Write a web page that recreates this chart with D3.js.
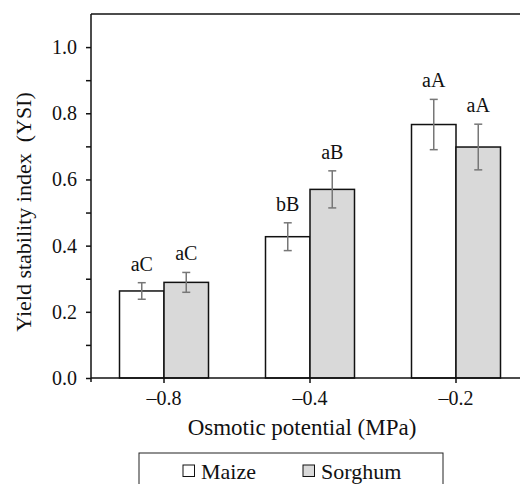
<!DOCTYPE html>
<html>
<head>
<meta charset="utf-8">
<script src="https://cdn.jsdelivr.net/npm/d3@7"></script>
<style>
  body { margin: 0; background: #fff; }
  svg text { font-family: "Liberation Serif", "Times New Roman", Tinos, "Nimbus Roman", FreeSerif, "DejaVu Serif", serif; fill: #111; }
</style>
</head>
<body>
<div id="chart"></div>
<script>
// values
let categories = ["\u20130.8", "\u20130.4", "\u20130.2"];
let series = ["Maize", "Sorghum"];
let maize = [0.263, 0.427, 0.766];
let maizeErr = [0.025, 0.042, 0.076];
let sorghum = [0.289, 0.570, 0.698];
let sorghumErr = [0.030, 0.056, 0.069];
let maizeLetters = ["aC", "bB", "aA"];
let sorghumLetters = ["aC", "aB", "aA"];
let yTicks = [0, 0.2, 0.4, 0.6, 0.8, 1.0];
let yMinor = [0.1, 0.3, 0.5, 0.7, 0.9];

let width = 520;
let height = 484;
let plotLeft = 91, plotRight = 529, plotTop = 14, plotBottom = 378;

let fills = { Maize: "#ffffff", Sorghum: "#d9d9d9" };

let rows = categories.map((c, i) => ({
    cat: c,
    bars: [
        { s: "Maize", v: maize[i], e: maizeErr[i], t: maizeLetters[i] },
        { s: "Sorghum", v: sorghum[i], e: sorghumErr[i], t: sorghumLetters[i] }
    ]
}));

let x0 = d3.scaleBand().domain(categories).range([plotLeft, plotRight]).padding(0);
let bw = x0.bandwidth();
let barW = 44.5;
let x1 = d3.scaleBand().domain(series).range([bw / 2 - barW, bw / 2 + barW]).padding(0);
let y = d3.scaleLinear().domain([0, 1.1]).range([plotBottom, plotTop]);

let svg = d3.select("#chart")
    .append("svg")
    .attr("width", width)
    .attr("height", height);

// bars
let groups = svg.append("g")
    .selectAll("g")
    .data(rows)
    .enter()
    .append("g")
    .attr("transform", d => `translate(${x0(d.cat)},0)`);

groups.selectAll("rect")
    .data(d => d.bars)
    .enter()
    .append("rect")
    .attr("x", d => x1(d.s))
    .attr("y", d => y(d.v))
    .attr("width", x1.bandwidth())
    .attr("height", d => y(0) - y(d.v))
    .attr("fill", d => fills[d.s])
    .attr("stroke", "#111")
    .attr("stroke-width", 1.5);

// error bars
let err = groups.selectAll("g.err")
    .data(d => d.bars)
    .enter()
    .append("g")
    .attr("class", "err")
    .attr("stroke", "#777")
    .attr("stroke-width", 1.5);

err.append("line")
    .attr("x1", d => x1(d.s) + x1.bandwidth() / 2)
    .attr("x2", d => x1(d.s) + x1.bandwidth() / 2)
    .attr("y1", d => y(d.v + d.e))
    .attr("y2", d => y(d.v - d.e));
err.append("line")
    .attr("x1", d => x1(d.s) + x1.bandwidth() / 2 - 4)
    .attr("x2", d => x1(d.s) + x1.bandwidth() / 2 + 4)
    .attr("y1", d => y(d.v + d.e))
    .attr("y2", d => y(d.v + d.e));
err.append("line")
    .attr("x1", d => x1(d.s) + x1.bandwidth() / 2 - 4)
    .attr("x2", d => x1(d.s) + x1.bandwidth() / 2 + 4)
    .attr("y1", d => y(d.v - d.e))
    .attr("y2", d => y(d.v - d.e));

// significance letters
groups.selectAll("text.sig")
    .data(d => d.bars)
    .enter()
    .append("text")
    .attr("class", "sig")
    .attr("x", d => x1(d.s) + x1.bandwidth() / 2)
    .attr("y", d => y(d.v + d.e) - 12)
    .attr("text-anchor", "middle")
    .attr("font-size", 20)
    .text(d => d.t);

// y axis
let yAxis = svg.append("g")
    .attr("transform", `translate(${plotLeft},0)`)
    .call(d3.axisLeft(y).tickValues(yTicks).tickFormat(d3.format(".1f")).tickSize(5).tickPadding(9))
    .call(g => g.select(".domain").remove());
yAxis.selectAll("line").attr("stroke", "#111").attr("stroke-width", 1.5);
yAxis.selectAll("text").attr("font-size", 20).attr("fill", "#111");

let yMinorAxis = svg.append("g")
    .attr("transform", `translate(${plotLeft},0)`)
    .call(d3.axisLeft(y).tickValues(yMinor).tickFormat("").tickSize(5))
    .call(g => g.select(".domain").remove());
yMinorAxis.selectAll("line").attr("stroke", "#111").attr("stroke-width", 1.5);

// x axis
let xAxis = svg.append("g")
    .attr("transform", `translate(0,${plotBottom})`)
    .call(d3.axisBottom(x0).tickSize(5).tickPadding(8))
    .call(g => g.select(".domain").remove());
xAxis.selectAll("line").attr("stroke", "#111").attr("stroke-width", 1.5);
xAxis.selectAll("text").attr("font-size", 20).attr("fill", "#111");

// frame lines
svg.append("line")
    .attr("x1", plotLeft).attr("x2", plotLeft)
    .attr("y1", plotTop).attr("y2", plotBottom + 4)
    .attr("stroke", "#111").attr("stroke-width", 1.5);
svg.append("line")
    .attr("x1", plotLeft).attr("x2", width)
    .attr("y1", plotBottom).attr("y2", plotBottom)
    .attr("stroke", "#111").attr("stroke-width", 1.5);
svg.append("line")
    .attr("x1", plotLeft).attr("x2", width)
    .attr("y1", plotTop).attr("y2", plotTop)
    .attr("stroke", "#111").attr("stroke-width", 1.5);

// axis titles
svg.append("text")
    .attr("x", 302)
    .attr("y", 435)
    .attr("text-anchor", "middle")
    .attr("font-size", 23)
    .text("Osmotic potential (MPa)");

svg.append("text")
    .attr("transform", "translate(31,212) rotate(-90)")
    .attr("text-anchor", "middle")
    .attr("font-size", 22)
    .style("white-space", "pre")
    .text("Yield stability index  (YSI)");

// legend
let legend = svg.append("g");
legend.append("rect")
    .attr("x", 139).attr("y", 453)
    .attr("width", 304).attr("height", 40)
    .attr("fill", "none")
    .attr("stroke", "#222")
    .attr("stroke-width", 1);

let legendX = [183, 303];
let items = legend.selectAll("g.item")
    .data(series)
    .enter()
    .append("g")
    .attr("class", "item")
    .attr("transform", (d, i) => `translate(${legendX[i]},0)`);
items.append("rect")
    .attr("x", 0).attr("y", 465)
    .attr("width", 11.5).attr("height", 11.5)
    .attr("fill", d => fills[d])
    .attr("stroke", "#111")
    .attr("stroke-width", 1);
items.append("text")
    .attr("x", 18)
    .attr("y", 479)
    .attr("font-size", 22)
    .text(d => d);
</script>
</body>
</html>
